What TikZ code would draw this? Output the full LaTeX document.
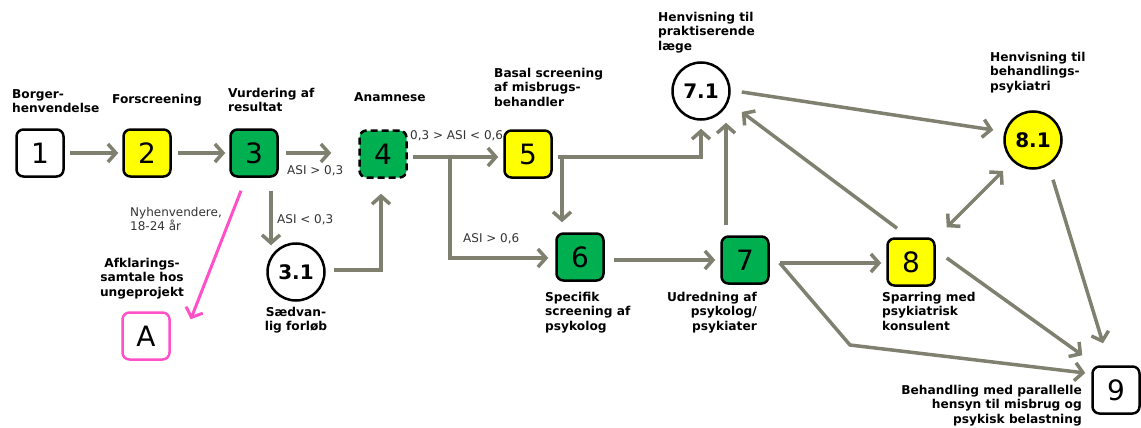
\documentclass[tikz,border=0pt]{standalone}
\usepackage{fontspec}
\setmainfont{DejaVu Sans}
\usetikzlibrary{arrows.meta}
\definecolor{arrgray}{RGB}{128,128,112}
\definecolor{boxgreen}{RGB}{0,176,80}
\definecolor{boxyellow}{RGB}{255,255,0}
\definecolor{pinkc}{RGB}{255,80,200}
\begin{document}
\begin{tikzpicture}[x=1pt,y=-1pt,
 stepbox/.style={draw=black,line width=2.5pt,rounded corners=7pt,minimum width=47pt,minimum height=47pt,inner sep=0pt,font=\fontsize{28}{30}\selectfont},
 circ/.style={circle,draw=black,line width=2.5pt,minimum size=57pt,inner sep=0pt,font=\fontsize{20}{22}\selectfont\bfseries},
 arr/.style={draw=arrgray,line width=3.5pt,-{Straight Barb[length=8pt,width=18pt]}},
 lbl/.style={inner sep=0pt,font=\fontsize{12.2}{14.5}\selectfont\bfseries},
 cond/.style={inner sep=0pt,font=\fontsize{12}{14}\selectfont,text=black!80},
]
\useasboundingbox (0,0) rectangle (1141,428);
% boxes
\node[stepbox,fill=white] (n1) at (40,153) {1};
\node[stepbox,fill=boxyellow] (n2) at (147,153) {2};
\node[stepbox,fill=boxgreen] (n3) at (254,153) {3};
\node[stepbox,fill=boxgreen,dash pattern=on 7pt off 4pt] (n4) at (383,154) {4};
\node[stepbox,fill=boxyellow] (n5) at (528,154) {5};
\node[stepbox,fill=boxgreen] (n6) at (580,257) {6};
\node[stepbox,fill=boxgreen] (n7) at (745,260) {7};
\node[stepbox,fill=boxyellow] (n8) at (911,262) {8};
\node[stepbox,fill=white] (n9) at (1116,390) {9};
\node[stepbox,fill=white,draw=pinkc] (nA) at (146,336) {A};
\node[circ,fill=white] (c31) at (296,272) {3.1};
\node[circ,fill=white] (c71) at (701,91) {7.1};
\node[circ,fill=boxyellow] (c81) at (1033,140) {8.1};
% helper coordinates
\coordinate (b4) at (450,157);
\coordinate (b5) at (562,157);
\coordinate (k7) at (850,345);
% connectors
\draw[arr] ([xshift=5pt]n1.east) -- ([xshift=-4pt]n2.west);
\draw[arr] ([xshift=6pt]n2.east) -- ([xshift=-4pt]n3.west);
\draw[arr] ([xshift=7pt]n3.east) -- ([xshift=-27pt,yshift=1pt]n4.west);
\draw[arr] ([xshift=17pt,yshift=-13pt]n3.south) -- ([xshift=-25pt,yshift=-3pt]c31.north);
\draw[arr] ([xshift=8pt,yshift=2pt]c31.east) -| ([xshift=-2pt,yshift=-15pt]n4.south);
\draw[draw=pinkc,line width=3pt,-{Straight Barb[length=8pt,width=18pt]}] ([xshift=-13pt,yshift=-13pt]n3.south) -- ([xshift=20pt,yshift=-8pt]nA.north east);
\draw[arr] ([xshift=5pt,yshift=-3pt]n4.east) -- ([xshift=-5pt,yshift=-3pt]n5.west);
\draw[arr] (b4) |- ([xshift=-7pt,yshift=-1pt]n6.west);
\draw[arr] ([xshift=5pt,yshift=-3pt]n5.east) -- (b5) -| ([yshift=-8pt]c71.south);
\draw[arr] (b5) -- ([xshift=-18pt,yshift=10pt]n6.north);
\draw[arr] ([xshift=9pt,yshift=-3pt]n6.east) -- ([xshift=-5pt]n7.west);
\draw[arr] ([xshift=-19pt,yshift=10pt]n7.north) -- ([xshift=25pt,yshift=-2pt]c71.south);
\draw[arr] ([xshift=11pt,yshift=-1pt]c71.east) -- ([xshift=-10pt,yshift=10pt]c81.west);
\draw[arr] ([xshift=-14pt,yshift=9pt]n8.north) -- ([xshift=11pt,yshift=-21pt]c71.east);
\draw[draw=arrgray,line width=3.5pt,{Straight Barb[length=8pt,width=18pt]}-{Straight Barb[length=8pt,width=18pt]}] ([xshift=11pt,yshift=10pt]n8.north east) -- ([xshift=-9pt,yshift=-10pt]c81.south west);
\draw[arr] ([xshift=10pt,yshift=-3pt]n7.east) -- ([xshift=-5pt,yshift=-1pt]n8.west);
\draw[arr] ([xshift=10pt,yshift=-3pt]n7.east) -- (k7) -- ([xshift=-6pt,yshift=17pt]n9.west);
\draw[arr] ([xshift=11pt,yshift=4pt]n8.east) -- ([xshift=-9pt,yshift=10pt]n9.north west);
\draw[arr] ([xshift=20pt,yshift=-10pt]c81.south) -- ([xshift=-13pt,yshift=22pt]n9.north);
% labels
\node[lbl,anchor=north west,align=left] (t1) at (12,89) {Borger-\\henvendelse};
\node[lbl,anchor=north west,align=left] (t2) at (112,94) {Forscreening};
\node[lbl,anchor=north west,align=left] (t3) at (228,88) {Vurdering af\\resultat};
\node[lbl,anchor=north west,align=left] (t4) at (354,92) {Anamnese};
\node[lbl,anchor=north west,align=left] (t5) at (494,68) {Basal screening\\af misbrugs-\\behandler};
\node[lbl,anchor=north west,align=left] (t71) at (658,12) {Henvisning til\\praktiserende\\læge};
\node[lbl,anchor=north west,align=left] (t81) at (990,52) {Henvisning til\\behandlings-\\psykiatri};
\node[lbl,anchor=north west,align=left] (t6) at (545,292) {Specifik\\screening af\\psykolog};
\node[lbl,anchor=north east,align=right] (t7) at (757,292) {Udredning af\\psykolog/\\psykiater};
\node[lbl,anchor=north west,align=left] (t8) at (882,292) {Sparring med\\psykiatrisk\\konsulent};
\node[lbl,anchor=north east,align=right] (t9) at (1082,385) {Behandling med parallelle\\hensyn til misbrug og\\psykisk belastning};
\node[lbl,anchor=north,align=center] (tA) at (142,258) {Afklarings-\\samtale hos\\ungeprojekt};
\node[lbl,anchor=north,align=center] (t31) at (296,307) {Sædvan-\\lig forløb};
\node[cond,anchor=north west,align=left] (l1) at (130,207) {Nyhenvendere,\\18-24 år};
\node[cond,anchor=north west] (l2) at (287,165) {ASI > 0,3};
\node[cond,anchor=north west] (l3) at (277,214) {ASI < 0,3};
\node[cond,anchor=north west] (l4) at (410,130) {0,3 > ASI < 0,6};
\node[cond,anchor=north west] (l5) at (463,233) {ASI > 0,6};
\end{tikzpicture}
\end{document}
